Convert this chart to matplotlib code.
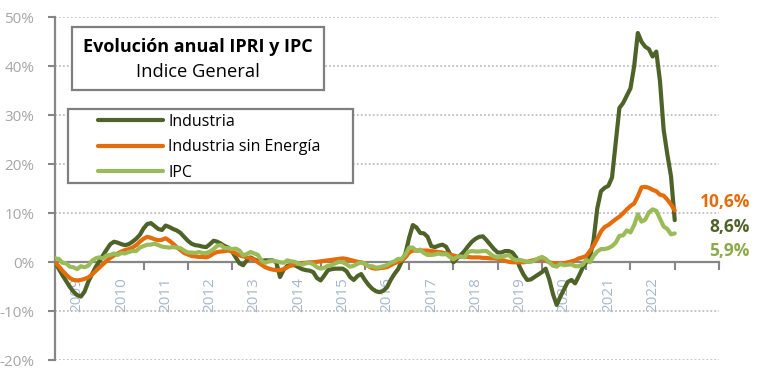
import numpy as np
import matplotlib
matplotlib.use("Agg")
import matplotlib.pyplot as plt
from matplotlib.patches import Rectangle

plt.rcParams['font.family'] = ['Open Sans', 'DejaVu Sans']

# ---------------- data (monthly, Jan 2009 .. Jan 2023) ----------------
years = [str(y) for y in range(2009, 2023)]

industria = [
    0.0, -1.3, -2.6, -3.8, -5.0, -6.0, -6.7, -7.0, -6.0, -4.0, -2.5, -1.0,   # 2009
    0.2, 1.4, 2.6, 3.7, 4.2, 4.0, 3.7, 3.5, 3.7, 4.2, 4.8, 5.6,             # 2010
    6.9, 7.8, 8.0, 7.4, 6.8, 6.6, 7.5, 7.2, 6.8, 6.5, 6.0, 5.2,             # 2011
    4.4, 3.8, 3.5, 3.4, 3.2, 3.1, 3.7, 4.4, 4.2, 3.8, 3.3, 3.0,             # 2012
    2.2, 1.0, -0.2, -0.6, 0.4, 1.0, 0.6, 0.3, 0.3, 0.4, 0.4, 0.4,           # 2013
    0.0, -3.0, -1.5, -0.7, -0.6, -0.6, -1.0, -1.4, -1.6, -1.7, -2.0, -3.2,  # 2014
    -3.7, -2.7, -1.6, -1.4, -1.3, -1.3, -1.3, -1.8, -3.0, -3.6, -2.8, -2.4, # 2015
    -3.6, -4.6, -5.4, -5.9, -6.1, -5.8, -5.1, -3.6, -2.4, -1.4, 0.2, 1.8,   # 2016
    5.0, 7.6, 7.1, 6.0, 5.9, 5.2, 3.3, 3.1, 3.4, 3.6, 3.2, 1.8,             # 2017
    0.0, 0.8, 1.5, 2.3, 3.3, 4.2, 4.8, 5.2, 5.3, 4.5, 3.6, 2.7,             # 2018
    2.0, 2.0, 2.3, 2.3, 2.0, 1.0, -1.0, -2.5, -3.6, -3.5, -3.0, -2.5,       # 2019
    -2.0, -1.3, -3.5, -6.5, -8.7, -7.0, -5.5, -4.0, -3.6, -4.3, -2.8, -1.2, # 2020
    0.0, 1.0, 4.5, 11.0, 14.5, 15.2, 15.6, 17.3, 24.5, 31.5, 32.5, 34.0,    # 2021
    35.5, 40.0, 46.8, 45.0, 44.0, 43.5, 42.0, 43.0, 37.0, 27.0, 22.0, 17.5, # 2022
    8.6,                                                                    # 2023
]

industria_sin_energia = [
    0.0, -0.8, -1.7, -2.5, -3.2, -3.6, -3.7, -3.6, -3.4, -3.1, -2.5, -1.8,  # 2009
    -1.1, -0.4, 0.3, 0.9, 1.4, 1.8, 2.2, 2.5, 2.7, 3.0, 3.5, 4.2,           # 2010
    4.8, 5.2, 5.0, 4.7, 4.5, 4.6, 4.9, 4.4, 3.8, 3.1, 2.5, 1.9,             # 2011
    1.6, 1.3, 1.2, 1.1, 1.1, 1.0, 1.3, 1.8, 2.1, 2.2, 2.3, 2.4,             # 2012
    2.2, 1.8, 1.4, 1.2, 1.0, 0.8, 0.5, 0.0, -0.5, -1.0, -1.3, -1.5,         # 2013
    -1.6, -1.6, -1.4, -1.0, -0.6, -0.4, -0.3, -0.2, -0.1, 0.0, 0.0, 0.1,    # 2014
    0.2, 0.3, 0.4, 0.5, 0.6, 0.7, 0.8, 0.7, 0.5, 0.3, 0.1, 0.0,             # 2015
    -0.3, -0.8, -1.2, -1.3, -1.2, -1.1, -1.0, -0.6, -0.2, 0.1, 0.4, 1.0,    # 2016
    2.0, 2.4, 2.4, 2.4, 2.4, 2.4, 2.3, 2.2, 2.1, 2.0, 1.8, 1.6,             # 2017
    1.4, 1.2, 1.1, 1.1, 1.1, 1.0, 1.0, 1.0, 0.9, 0.9, 0.8, 0.8,             # 2018
    0.7, 0.5, 0.3, 0.1, 0.0, 0.0, 0.0, 0.0, 0.1, 0.3, 0.5, 0.6,             # 2019
    0.7, 0.4, 0.0, -0.2, -0.3, -0.2, -0.2, 0.0, 0.2, 0.4, 0.8, 1.0,         # 2020
    1.3, 2.3, 3.4, 4.8, 6.3, 7.2, 7.6, 8.2, 8.8, 9.3, 10.0, 10.8,           # 2021
    11.5, 12.0, 13.5, 15.3, 15.4, 15.2, 14.8, 14.5, 13.8, 13.6, 12.8, 11.8, # 2022
    10.6,                                                                   # 2023
]

ipc = [
    0.8, 0.7, -0.1, -0.2, -0.9, -1.0, -1.4, -0.8, -1.0, -0.7, 0.3, 0.8,     # 2009
    1.0, 0.8, 1.4, 1.5, 1.8, 1.5, 1.9, 1.8, 2.1, 2.3, 2.3, 3.0,             # 2010
    3.3, 3.6, 3.6, 3.8, 3.5, 3.2, 3.1, 3.0, 3.1, 3.0, 2.9, 2.4,             # 2011
    2.0, 2.0, 1.9, 2.1, 1.9, 1.9, 2.2, 2.7, 3.4, 3.5, 2.9, 2.9,             # 2012
    2.7, 2.8, 2.4, 1.4, 1.7, 2.1, 1.8, 1.5, 0.3, -0.1, 0.2, 0.3,            # 2013
    0.2, 0.0, -0.1, 0.4, 0.2, 0.1, -0.3, -0.5, -0.2, -0.1, -0.4, -1.0,      # 2014
    -1.3, -1.1, -0.7, -0.6, -0.2, 0.1, 0.0, -0.4, -0.9, -0.7, -0.3, 0.0,    # 2015
    -0.3, -0.8, -0.8, -1.1, -1.0, -0.8, -0.6, -0.1, 0.2, 0.7, 0.7, 1.6,     # 2016
    3.0, 3.0, 2.3, 2.6, 1.9, 1.5, 1.5, 1.6, 1.8, 1.6, 1.7, 1.1,             # 2017
    0.6, 1.1, 1.2, 1.0, 2.1, 2.3, 2.2, 2.2, 2.3, 2.3, 1.7, 1.2,             # 2018
    1.0, 1.1, 1.3, 1.5, 0.8, 0.4, 0.5, 0.3, 0.1, 0.1, 0.4, 0.8,             # 2019
    1.1, 0.7, 0.0, -0.7, -0.9, -0.3, -0.6, -0.5, -0.4, -0.8, -0.8, -0.5,    # 2020
    0.5, 0.0, 1.3, 2.2, 2.7, 2.7, 2.9, 3.3, 4.0, 5.4, 5.5, 6.5,             # 2021
    6.1, 7.6, 9.8, 8.3, 8.7, 10.2, 10.8, 10.5, 8.9, 7.3, 6.8, 5.7,          # 2022
    5.9,                                                                    # 2023
]

series_names = ["Industria", "Industria sin Energía", "IPC"]
last_labels = ["8,6%", "10,6%", "5,9%"]
y_ticks = [-20, -10, 0, 10, 20, 30, 40, 50]

# ---------------- styling ----------------
C_DARK = "#4F6228"
C_ORANGE = "#E46C0A"
C_LIGHT = "#9BBB59"
C_AXIS = "#868686"
C_TICKTXT = "#A6A6A6"
C_YEAR = "#A7B7CB"

fig = plt.figure(figsize=(7.59, 3.80), dpi=100)
ax = fig.add_axes([55 / 759, 1 - 360.3 / 380, 664 / 759, (360.3 - 17.3) / 380])

months = np.arange(len(industria))
l1, = ax.plot(months, industria, color=C_DARK, lw=3.0, zorder=4, solid_capstyle='round')
l2, = ax.plot(months, industria_sin_energia, color=C_ORANGE, lw=3.0, zorder=4.1, solid_capstyle='round')
l3, = ax.plot(months, ipc, color=C_LIGHT, lw=3.0, zorder=4.2, solid_capstyle='round')

ax.set_xlim(0, 180)
ax.set_ylim(-20, 50)

# gridlines (dotted, except 0)
for v in y_ticks:
    if v != 0:
        ax.axhline(v, color="#BFBFBF", lw=1.3, ls=(0, (1, 1.2)), zorder=1)

for s in ["top", "right"]:
    ax.spines[s].set_visible(False)
ax.spines["left"].set_color(C_AXIS)
ax.spines["left"].set_linewidth(1.6)
ax.spines["bottom"].set_position(("data", 0))
ax.spines["bottom"].set_color(C_AXIS)
ax.spines["bottom"].set_linewidth(1.6)
ax.spines["bottom"].set_zorder(3)

ax.set_yticks(y_ticks)
ax.set_yticklabels([f"{v}%" for v in y_ticks])
ax.tick_params(axis="y", direction="out", length=5, width=1.5, color=C_AXIS,
               labelcolor=C_TICKTXT, labelsize=11, pad=10)

ax.set_xticks(np.arange(12, 181, 12))
ax.set_xticklabels([])
ax.set_xticks(np.arange(6, 12 * len(years), 12), minor=True)
ax.set_xticklabels(years, minor=True, rotation=90)
ax.tick_params(axis="x", which="major", direction="out", length=6, width=1.5, color=C_AXIS)
ax.tick_params(axis="x", which="minor", length=0, labelsize=11, labelcolor=C_YEAR, pad=11)

# end labels
ax.text(188.4, 12.3, last_labels[1], color=C_ORANGE, fontsize=12.5, fontweight="bold",
        ha="right", va="center", clip_on=False)
ax.text(188.4, 7.3, last_labels[0], color=C_DARK, fontsize=12.5, fontweight="bold",
        ha="right", va="center", clip_on=False)
ax.text(188.4, 2.4, last_labels[2], color="#8DAA4A", fontsize=12.5, fontweight="bold",
        ha="right", va="center", clip_on=False)

# title box
fig.add_artist(Rectangle((71.7 / 759, 1 - 90 / 380), 252.3 / 759, 63.3 / 380,
                         transform=fig.transFigure, facecolor="white",
                         edgecolor="#7F7F7F", lw=1.6, zorder=2))
fig.text(197.5 / 759, 1 - 46.7 / 380, "Evolución anual IPRI y IPC", ha="center", va="center",
         fontsize=13, fontweight="bold", color="black", zorder=3)
fig.text(197.5 / 759, 1 - 71.7 / 380, "Indice General", ha="center", va="center",
         fontsize=13.2, color="black", zorder=3)

# legend box
fig.add_artist(Rectangle((68.3 / 759, 1 - 183.3 / 380), 284.4 / 759, 74 / 380,
                         transform=fig.transFigure, facecolor="white",
                         edgecolor="#7F7F7F", lw=1.6, zorder=2))
fig.legend([l1, l2, l3], series_names, loc="upper left",
           bbox_to_anchor=(98 / 759, 1 - 114 / 380), bbox_transform=fig.transFigure,
           frameon=False, fontsize=11.5, handlelength=4.1, handletextpad=0.3,
           labelspacing=0.58, borderpad=0, borderaxespad=0)

fig.savefig("out.png", dpi=100)
